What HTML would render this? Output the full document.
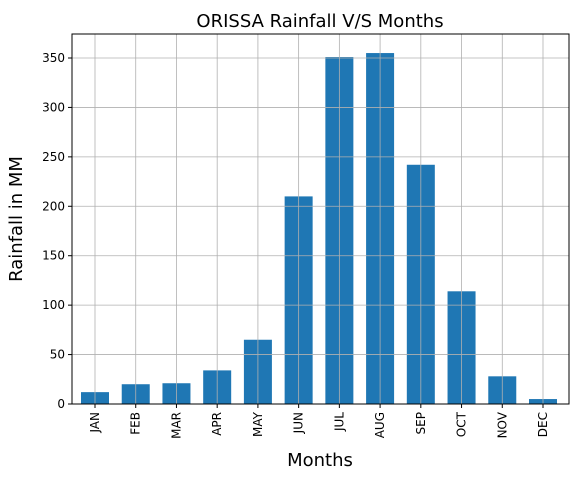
<!DOCTYPE html>
<html><head><meta charset="utf-8"><style>
body{margin:0;background:#fff;}
svg{font-family:"DejaVu Sans","Liberation Sans",sans-serif;}
</style></head><body>
<svg id="chart" width="577" height="480">
<text x="320" y="27" font-size="18" text-anchor="middle">ORISSA Rainfall V/S Months</text>
<text x="320" y="466" font-size="18" text-anchor="middle">Months</text>
<text transform="translate(22,219) rotate(-90)" font-size="18" text-anchor="middle">Rainfall in MM</text>
<g id="bars"></g>
<g id="grid"></g>
<g id="axes"></g>
</svg>
<script>
const months=["JAN","FEB","MAR","APR","MAY","JUN","JUL","AUG","SEP","OCT","NOV","DEC"];
const rainfall=[12,20,21,34,65,210,351,355,242,114,28,5];
const yTicks=[0,50,100,150,200,250,300,350];
const L=72,R=569,T=34,B=404;
const ns="http://www.w3.org/2000/svg";
function y(v){return B-v*(346/350);}
function x(i){return 95+i*((543-95)/11);}
function mk(tag,attrs,parent){const e=document.createElementNS(ns,tag);for(const k in attrs)e.setAttribute(k,attrs[k]);document.getElementById(parent).appendChild(e);return e;}
rainfall.forEach((v,i)=>{
 const r=mk("rect",{x:x(i)-14,y:y(v),width:28,height:B-y(v),fill:"#1f77b4"},"bars");
 
 
});
months.forEach((m,i)=>{
 const g=mk("line",{x1:x(i),x2:x(i),y1:T,y2:B,stroke:"#b0b0b0","stroke-width":0.8},"grid");
 
 
 mk("line",{x1:x(i),x2:x(i),y1:B,y2:B+4,stroke:"#000"},"axes");
 const t=mk("text",{transform:`translate(${x(i)+4},${B+8}) rotate(-90)`,"font-size":12,"text-anchor":"end"},"axes");
 t.textContent=m;
 
 
});
yTicks.forEach(v=>{
 const g=mk("line",{x1:L,x2:R,y1:y(v),y2:y(v),stroke:"#b0b0b0","stroke-width":0.8},"grid");
 
 
 mk("line",{x1:L-4,x2:L,y1:y(v),y2:y(v),stroke:"#000"},"axes");
 const t=mk("text",{x:L-7,y:y(v)+4,"font-size":12,"text-anchor":"end"},"axes");
 t.textContent=v;
 
 
});
const f=mk("rect",{x:L,y:T,width:R-L,height:B-T,fill:"none",stroke:"#000","stroke-width":1},"axes");


</script>
</body></html>
